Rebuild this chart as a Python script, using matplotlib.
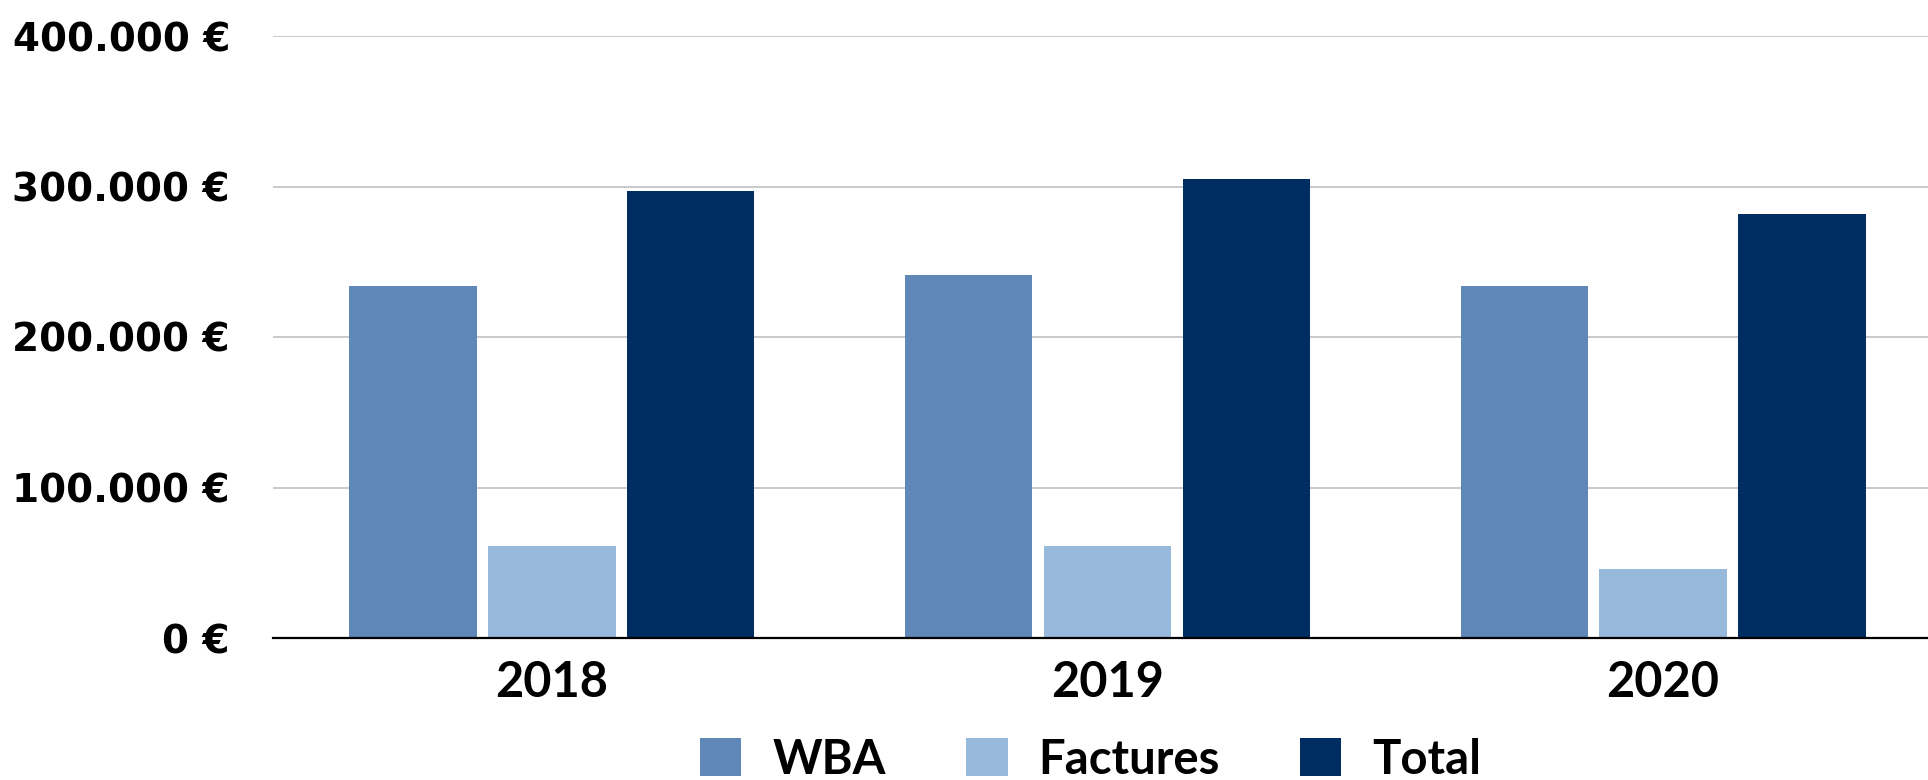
import matplotlib
matplotlib.use('Agg')
import matplotlib.pyplot as plt
import numpy as np
from matplotlib.patches import Patch

# data
years = ['2018', '2019', '2020']
wba = [234000, 241000, 234000]
factures = [61000, 61000, 46000]
total = [297000, 305000, 282000]
series_names = ['WBA', 'Factures', 'Total']
colors = ['#5F87B8', '#97B9DB', '#002D62']
yticks = [0, 100000, 200000, 300000, 400000]


def euro(v):
    # 100000 -> "100.000 €"
    return '{:,.0f} €'.format(v).replace(',', '.')


fig = plt.figure(figsize=(19.28, 7.80), dpi=100)
ax = fig.add_axes([273 / 1928, 1 - 638 / 780, 1 - 273 / 1928, (638 - 36) / 780])

x = np.arange(len(years))
step = 0.25
width = 0.229
for i, (vals, c) in enumerate(zip([wba, factures, total], colors)):
    ax.bar(x + (i - 1) * step, vals, width=width, color=c, zorder=3)

ax.set_xlim(-0.502, 2.477)
ax.set_ylim(0, 400000)
ax.set_yticks(yticks)
ax.set_yticklabels([euro(v) for v in yticks], fontfamily='DejaVu Sans',
                   fontweight='bold', fontsize=28)
ax.set_xticks(x)
ax.set_xticklabels(years, fontfamily='Lato', fontweight='bold', fontsize=35)
ax.tick_params(axis='y', length=0, pad=31)
ax.tick_params(axis='x', length=0, pad=16)

ax.grid(axis='y', color='#C0C0C0', linewidth=1.2, zorder=0)
for s in ['top', 'right', 'left']:
    ax.spines[s].set_visible(False)
ax.spines['bottom'].set_linewidth(1.6)
ax.spines['bottom'].set_zorder(4)

handles = [Patch(facecolor=c, label=n) for n, c in zip(series_names, colors)]
leg = fig.legend(handles=handles, loc='center', bbox_to_anchor=(1091 / 1928, 1 - 759.5 / 780),
                 ncol=3, frameon=False, prop={'family': 'Lato', 'weight': 'bold', 'size': 34},
                 handlelength=0.87, handleheight=0.87, handletextpad=0.66,
                 columnspacing=1.7, borderpad=0, borderaxespad=0)

fig.savefig('out.png', dpi=100)
